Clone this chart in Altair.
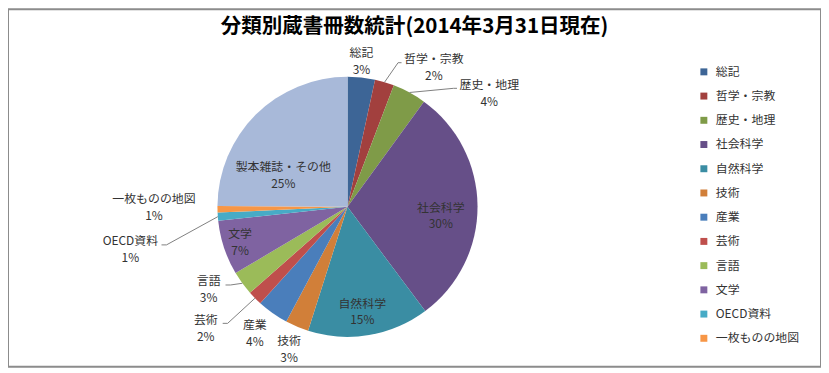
import math
import altair as alt
import pandas as pd

FONT = "Noto Sans CJK JP"

categories = ["総記", "哲学・宗教", "歴史・地理", "社会科学", "自然科学", "技術", "産業",
              "芸術", "言語", "文学", "OECD資料", "一枚ものの地図", "製本雑誌・その他"]
shares = [3.4, 2.4, 4.2, 29.8, 15.1, 2.9, 3.9, 1.8, 3.0, 6.8, 1.0, 0.8, 24.9]
colors = ["#3D6596", "#A2403E", "#7F9B48", "#664F88", "#3A8DA3", "#D17F39", "#4A7EBB",
          "#BF4F4C", "#9BBB59", "#7F63A1", "#47ABC6", "#F79646", "#A8B9D9"]
legend_items = categories[:12]
title_text = "分類別蔵書冊数統計(2014年3月31日現在)"

# label layout (polar position of each label block relative to the pie centre)
label_angle = {"総記": 5.5, "哲学・宗教": 31.8, "歴史・地理": 51.3, "社会科学": 95.6,
               "自然科学": 172, "技術": 202.3, "産業": 216.2, "芸術": 229.4, "言語": 239.1,
               "文学": 251.7, "OECD資料": 258.8, "一枚ものの地図": 269.8, "製本雑誌・その他": 296}
label_radius = {"総記": 147, "哲学・宗教": 165, "歴史・地理": 183, "社会科学": 94.5,
                "自然科学": 107, "技術": 155, "産業": 158, "芸術": 188, "言語": 163,
                "文学": 114, "OECD資料": 223, "一枚ものの地図": 195, "製本雑誌・その他": 72}
leader_right = ["哲学・宗教", "歴史・地理"]
leader_left = ["芸術", "言語", "OECD資料"]

CX, CY, R = 342, 199, 131
LINE_H = 17

total = sum(shares)
df = pd.DataFrame({"cat": categories, "value": shares, "idx": range(len(categories))})

lab_rows, line_rows = [], []
cum = 0.0
for c, v in zip(categories, shares):
    mid = math.radians((cum + v / 2) / total * 360)
    cum += v
    a = math.radians(label_angle[c])
    r = label_radius[c]
    lab_rows.append({"cat": c, "label": f"{c}\n{round(v)}%", "la": a, "lr": r})
    lx, ly = CX + r * math.sin(a), CY - r * math.cos(a)
    sx, sy = CX + R * math.sin(mid), CY - R * math.cos(mid)
    w = sum(12 if ord(ch) > 255 else 7.2 for ch in c)
    if c in leader_right:
        pts = [(sx, sy), (lx - w / 2 - 6, ly - 5), (lx - w / 2 - 2.5, ly - 5)]
    elif c in leader_left:
        pts = [(lx + w / 2 + 5, ly - 5), (lx + w / 2 + 10, ly - 5), (sx, sy)]
    else:
        pts = []
    for k, (px, py) in enumerate(pts):
        line_rows.append({"cat": c, "k": k, "px": px, "py": py})

lab_df = pd.DataFrame(lab_rows)
line_df = pd.DataFrame(line_rows)

pie = alt.Chart(df).mark_arc(radius=R).encode(
    theta=alt.Theta("value:Q", stack=True),
    color=alt.Color(
        "cat:N",
        scale=alt.Scale(domain=categories, range=colors),
        legend=alt.Legend(
            values=legend_items, title=None, orient="none", legendX=695, legendY=57,
            symbolType="square", symbolSize=49, symbolStrokeWidth=0,
            labelFont=FONT, labelFontSize=12, labelColor="#333", rowPadding=12.4,
            labelOffset=6, padding=0,
        ),
    ),
    order=alt.Order("idx:Q"),
    x=alt.value(CX),
    y=alt.value(CY),
)

lines = alt.Chart(line_df).mark_line(color="#808080", strokeWidth=1).encode(
    x=alt.X("px:Q", scale=None, axis=None),
    y=alt.Y("py:Q", scale=None, axis=None),
    detail="cat:N",
    order="k:Q",
)

labels = alt.Chart(lab_df).mark_text(
    lineBreak="\n", font=FONT, fontSize=12, color="#333", lineHeight=LINE_H,
    align="center", baseline="middle", dy=-LINE_H / 2,
).encode(
    theta=alt.Theta("la:Q", scale=None, stack=False),
    radius=alt.Radius("lr:Q", scale=None),
    text="label:N",
    x=alt.value(CX),
    y=alt.value(CY),
)

chart = alt.layer(pie, lines, labels).resolve_scale(theta="independent").properties(
    width=819,
    height=360,
    padding=0,
    autosize=alt.AutoSizeParams(type="none"),
    background="white",
    title=alt.TitleParams(
        text=title_text, font=FONT, fontSize=20.7, fontWeight="bold", color="#000",
        anchor="middle", baseline="middle", orient="top", offset=-17, dy=22,
    ),
).configure_view(stroke="#8c8c8c", strokeWidth=2)

chart.save("out.html", embed_options={"renderer": "svg", "actions": False})
